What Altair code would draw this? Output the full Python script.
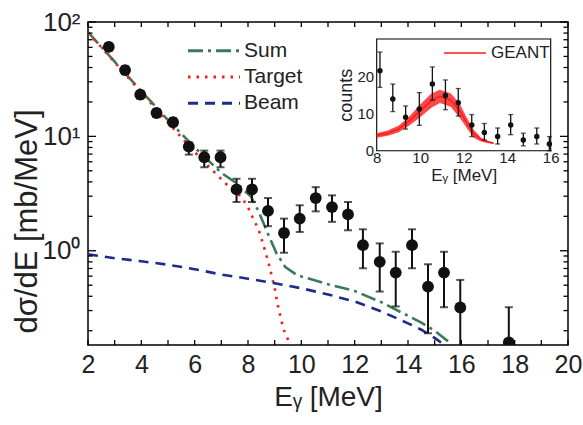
import altair as alt
import pandas as pd

FONT = "Liberation Sans"

# ---------------- main panel data ----------------
E_pts = [2.78, 3.39, 3.96, 4.57, 5.19, 5.78, 6.36, 6.97, 7.57, 8.15, 8.75, 9.35,
         9.94, 10.54, 11.15, 11.75, 12.31, 12.94, 13.54, 14.15, 14.75, 15.35, 15.96, 17.78]
Y_pts = [60.6, 38.0, 23.2, 16.0, 13.3, 8.13, 6.57, 6.57, 3.44, 3.44, 2.23, 1.43,
         1.91, 2.89, 2.41, 2.08, 1.12, 0.80, 0.644, 1.12, 0.486, 0.644, 0.319, 0.158]
Y_hi = [65.0, 41.0, 25.0, 17.3, 14.4, 8.87, 7.51, 7.51, 4.26, 4.26, 2.89, 1.91,
        2.50, 3.60, 3.05, 2.67, 1.54, 1.16, 0.98, 1.54, 0.762, 0.98, 0.556, 0.321]
Y_lo = [56.0, 35.0, 21.4, 14.8, 12.3, 6.93, 5.37, 5.37, 2.67, 2.67, 1.64, 0.961,
        1.46, 2.21, 1.79, 1.51, 0.703, 0.44, 0.326, 0.703, 0.19, 0.321, 0.10, 0.10]

E_target = [2, 3, 4, 5, 6, 6.8, 7.2, 7.6, 7.8, 8.0, 8.2, 8.4, 8.6, 8.8, 9.0, 9.1,
            9.25, 9.4, 9.65, 9.8]
Target = [81, 44.5, 24.2, 13.2, 7.3, 4.7, 3.8, 3.2, 2.85, 2.4, 1.9, 1.52, 1.08, 0.74,
          0.47, 0.35, 0.245, 0.185, 0.146, 0.13]

E_sum = [2, 3, 4, 5, 6, 7, 7.5, 7.7, 8.1, 8.4, 8.75, 9.07, 9.4, 9.85, 10.4, 11, 12,
         13, 14, 14.5, 15, 15.5]
Sum = [81.5, 45, 24.8, 13.9, 8.0, 4.8, 4.0, 3.6, 3.0, 2.2, 1.4, 0.95, 0.72, 0.61,
       0.56, 0.51, 0.445, 0.355, 0.27, 0.235, 0.2, 0.162]

E_beam = [2, 3, 4, 5, 6, 7, 8, 9, 10, 11, 12, 13, 14, 14.5, 15, 15.5]
Beam = [0.93, 0.86, 0.81, 0.755, 0.69, 0.62, 0.57, 0.52, 0.47, 0.415, 0.36, 0.295,
        0.232, 0.204, 0.173, 0.142]

series_names = ["Sum", "Target", "Beam"]
series_colors = ["#3b7a57", "#ff1a1a", "#1f2a8f"]
series_dash = [[15, 5, 3, 5], [2.5, 6], [10, 7]]

x_domain = [2, 20]
y_domain = [0.15, 100]
x_labels = [2, 4, 6, 8, 10, 12, 14, 16, 18, 20]
x_ticks = list(range(2, 21))
y_major = [1, 10, 100]
y_minor = [0.2, 0.3, 0.4, 0.5, 0.6, 0.7, 0.8, 0.9, 2, 3, 4, 5, 6, 7, 8, 9,
           20, 30, 40, 50, 60, 70, 80, 90]

# ---------------- inset data ----------------
E_ins = [8.15, 8.74, 9.33, 9.96, 10.56, 11.16, 11.75, 12.37, 12.95, 13.56, 14.16,
         14.74, 15.36, 15.94]
C_ins = [21.5, 13.9, 9.0, 11.2, 17.9, 14.8, 12.9, 6.9, 4.9, 3.8, 6.9, 2.9, 3.8, 1.8]
C_hi = [26.5, 17.9, 12.0, 15.6, 22.5, 19.0, 16.7, 9.7, 7.3, 6.1, 9.7, 4.7, 6.1, 3.8]
C_lo = [17.0, 10.5, 5.8, 6.8, 13.6, 11.0, 9.3, 3.8, 2.9, 1.8, 4.3, 1.3, 1.8, 0.0]

E_geant = [8.0, 8.5, 9.0, 9.5, 10.0, 10.5, 10.9, 11.4, 11.8, 12.15, 12.45, 12.8,
           13.1, 13.37]
G_mid = [4.1, 4.7, 5.8, 8.0, 10.7, 13.4, 14.6, 13.6, 10.9, 7.4, 4.6, 3.0, 2.4, 2.0]
G_lo = [3.5, 4.0, 4.9, 6.8, 9.0, 11.5, 12.8, 11.8, 9.0, 6.0, 3.5, 2.5, 2.1, 1.8]
G_hi = [4.7, 5.4, 6.7, 9.2, 12.4, 15.3, 16.4, 15.4, 12.8, 8.8, 5.7, 3.5, 2.7, 2.2]

ins_x_domain = [8, 16]
ins_y_domain = [0, 30]
ins_x_labels = [8, 10, 12, 14, 16]
ins_y_labels = [0, 10, 20]

# ---------------- layout ----------------
W, H = 480, 323
PAD = {"left": 88, "top": 22, "right": 15, "bottom": 80}
INS_X_RANGE = [288.7, 462.7]
INS_Y_RANGE = [128.7, 17.0]
LEG_Y_RANGE = [28.7, 81.3]
LEG_LINE = (100, 152)
LEG_TEXT_X = 156
TICK_MINOR, TICK_MAJOR, TICK_X = 4.5, 8, 5

xs = alt.Scale(domain=x_domain, nice=False, zero=False)
ys = alt.Scale(type="log", domain=y_domain, nice=False)
color_scale = alt.Scale(domain=series_names, range=series_colors)
dash_scale = alt.Scale(domain=series_names, range=series_dash)

# ---------------- tables ----------------
pts_df = pd.DataFrame({"E": E_pts, "y": Y_pts, "hi": Y_hi, "lo": Y_lo})
curves_df = pd.concat([
    pd.DataFrame({"E": E_sum, "v": Sum, "series": "Sum"}),
    pd.DataFrame({"E": E_target, "v": Target, "series": "Target"}),
    pd.DataFrame({"E": E_beam, "v": Beam, "series": "Beam"}),
], ignore_index=True)
legend_df = pd.DataFrame({"series": series_names, "row": list(range(len(series_names)))})
xt_df = pd.DataFrame({"t": x_ticks})
ymin_df = pd.DataFrame({"t": y_minor})
ymaj_df = pd.DataFrame({"t": y_major})

x_main = alt.X("E:Q", scale=xs, axis=alt.Axis(
    values=x_labels, ticks=False, domain=False, grid=False, labelFontSize=25,
    labelPadding=7, labelFlush=False, title="Eᵧ [MeV]", titleFontSize=28,
    titlePadding=6))
y_main = alt.Y("v:Q", scale=ys, axis=alt.Axis(
    values=y_major, ticks=False, domain=False, grid=False, labelFontSize=26,
    labelPadding=8,
    labelExpr="datum.value == 1 ? '10⁰' : (datum.value == 10 ? '10¹' : '10²')",
    title="dσ/dE [mb/MeV]", titleFontSize=31, titleX=-61, titleY=199,
    titleBaseline="middle", titleAngle=270))

curves = alt.Chart(curves_df).mark_line(strokeWidth=2.6, clip=True).encode(
    x=x_main,
    y=y_main,
    color=alt.Color("series:N", scale=color_scale, legend=None),
    strokeDash=alt.StrokeDash("series:N", scale=dash_scale, legend=None),
    detail="series:N",
)

bars = alt.Chart(pts_df).mark_rule(strokeWidth=2, color="#111111", clip=True).encode(
    x=alt.X("E:Q", scale=xs), y=alt.Y("lo:Q", scale=ys), y2="hi:Q")
cap_hi = alt.Chart(pts_df).mark_tick(orient="horizontal", size=8, thickness=2,
                                     color="#111111", clip=True).encode(
    x=alt.X("E:Q", scale=xs), y=alt.Y("hi:Q", scale=ys))
cap_lo = alt.Chart(pts_df).mark_tick(orient="horizontal", size=8, thickness=2,
                                     color="#111111", clip=True).encode(
    x=alt.X("E:Q", scale=xs), y=alt.Y("lo:Q", scale=ys))
dots = alt.Chart(pts_df).mark_circle(size=140, color="#111111", opacity=1, clip=True).encode(
    x=alt.X("E:Q", scale=xs), y=alt.Y("y:Q", scale=ys))

main = alt.layer(curves, bars, cap_hi, cap_lo, dots)

# ---------------- inward frame ticks (own layer, same scales) ----------------
tick_style = dict(strokeWidth=1.3, color="black")
tb = alt.Chart(xt_df).mark_rule(**tick_style).encode(
    x=alt.X("t:Q", scale=xs, axis=None), y=alt.value(H), y2=alt.value(H - TICK_X))
tt = alt.Chart(xt_df).mark_rule(**tick_style).encode(
    x=alt.X("t:Q", scale=xs, axis=None), y=alt.value(0), y2=alt.value(TICK_X))
tl_min = alt.Chart(ymin_df).mark_rule(**tick_style).encode(
    y=alt.Y("t:Q", scale=ys, axis=None), x=alt.value(0), x2=alt.value(TICK_MINOR))
tr_min = alt.Chart(ymin_df).mark_rule(**tick_style).encode(
    y=alt.Y("t:Q", scale=ys, axis=None), x=alt.value(W), x2=alt.value(W - TICK_MINOR))
tl_maj = alt.Chart(ymaj_df).mark_rule(**tick_style).encode(
    y=alt.Y("t:Q", scale=ys, axis=None), x=alt.value(0), x2=alt.value(TICK_MAJOR))
tr_maj = alt.Chart(ymaj_df).mark_rule(**tick_style).encode(
    y=alt.Y("t:Q", scale=ys, axis=None), x=alt.value(W), x2=alt.value(W - TICK_MAJOR))
ticks_layer = alt.layer(tb, tt, tl_min, tr_min, tl_maj, tr_maj)

# ---------------- main legend (Sum / Target / Beam) ----------------
ly = alt.Y("row:Q", scale=alt.Scale(domain=[0, len(series_names) - 1], range=LEG_Y_RANGE,
                                    nice=False, zero=False), axis=None)
leg_lines = alt.Chart(legend_df).mark_rule(strokeWidth=3).encode(
    y=ly, x=alt.value(LEG_LINE[0]), x2=alt.value(LEG_LINE[1]),
    color=alt.Color("series:N", scale=color_scale, legend=None),
    strokeDash=alt.StrokeDash("series:N", scale=dash_scale, legend=None))
leg_text = alt.Chart(legend_df).mark_text(
    align="left", baseline="middle", font=FONT, fontSize=21, color="#222222").encode(
    y=ly, x=alt.value(LEG_TEXT_X), text="series:N")
legend_layer = alt.layer(leg_lines, leg_text)

# ---------------- inset ----------------
xs_in = alt.Scale(domain=ins_x_domain, range=INS_X_RANGE, nice=False, zero=False)
ys_in = alt.Scale(domain=ins_y_domain, range=INS_Y_RANGE, nice=False, zero=False)

frame_df = pd.DataFrame({"x0": [ins_x_domain[0]], "x1": [ins_x_domain[1]],
                         "y0": [ins_y_domain[0]], "y1": [ins_y_domain[1]]})
frame = alt.Chart(frame_df).mark_rect(fill="white", stroke="black", strokeWidth=1.1).encode(
    x=alt.X("x0:Q", scale=xs_in, axis=alt.Axis(
        orient="bottom", offset=INS_Y_RANGE[0] - H, values=ins_x_labels, format="d",
        ticks=False, domain=False, grid=False, labelFontSize=15, labelPadding=0,
        labelFlush=False, title="Eᵧ [MeV]", titleFontSize=17, titlePadding=2, zindex=1)),
    x2="x1:Q",
    y=alt.Y("y0:Q", scale=ys_in, axis=alt.Axis(
        orient="left", offset=-INS_X_RANGE[0], values=ins_y_labels, format="d",
        ticks=False, domain=False, grid=False, labelFontSize=15, labelPadding=3,
        title="counts", titleFontSize=18, titlePadding=2, zindex=1)),
    y2="y1:Q",
)

geant_df = pd.DataFrame({"E": E_geant, "mid": G_mid, "lo": G_lo, "hi": G_hi, "name": "GEANT"})
band = alt.Chart(geant_df).mark_area(color="#ff1a1a", opacity=0.8).encode(
    x=alt.X("E:Q", scale=xs_in), y=alt.Y("lo:Q", scale=ys_in), y2="hi:Q")
gline = alt.Chart(geant_df).mark_line(strokeWidth=1.5).encode(
    x=alt.X("E:Q", scale=xs_in), y=alt.Y("mid:Q", scale=ys_in),
    color=alt.Color("name:N", scale=alt.Scale(domain=["GEANT"], range=["#ff1a1a"]),
                    legend=alt.Legend(orient="none", legendX=355, legendY=9, title=None,
                                      symbolType="stroke", symbolSize=1764,
                                      symbolStrokeWidth=1.5, labelFont=FONT,
                                      labelFontSize=17, labelColor="#222222",
                                      labelOffset=4, padding=0)))

ins_df = pd.DataFrame({"E": E_ins, "c": C_ins, "hi": C_hi, "lo": C_lo})
ibars = alt.Chart(ins_df).mark_rule(strokeWidth=1.3, color="#111111").encode(
    x=alt.X("E:Q", scale=xs_in), y=alt.Y("lo:Q", scale=ys_in), y2="hi:Q")
icap_hi = alt.Chart(ins_df).mark_tick(orient="horizontal", size=5, thickness=1.3,
                                      color="#111111").encode(
    x=alt.X("E:Q", scale=xs_in), y=alt.Y("hi:Q", scale=ys_in))
icap_lo = alt.Chart(ins_df).mark_tick(orient="horizontal", size=5, thickness=1.3,
                                      color="#111111").encode(
    x=alt.X("E:Q", scale=xs_in), y=alt.Y("lo:Q", scale=ys_in))
idots = alt.Chart(ins_df).mark_circle(size=30, color="#111111", opacity=1).encode(
    x=alt.X("E:Q", scale=xs_in), y=alt.Y("c:Q", scale=ys_in))

inset = alt.layer(frame, band, gline, ibars, icap_hi, icap_lo, idots)

chart = alt.layer(main, ticks_layer, legend_layer, inset).resolve_scale(
    x="independent", y="independent", color="independent", strokeDash="independent"
).resolve_legend(color="independent").properties(
    width=W, height=H, padding=PAD, autosize=alt.AutoSizeParams(type="none"),
    background="white",
).configure(font=FONT).configure_view(stroke="black", strokeWidth=1.5).configure_axis(
    labelColor="#222222", titleColor="#222222", labelFont=FONT, titleFont=FONT,
    titleFontWeight="normal",
)

chart.save("out.html", embed_options={"renderer": "svg", "actions": False})
